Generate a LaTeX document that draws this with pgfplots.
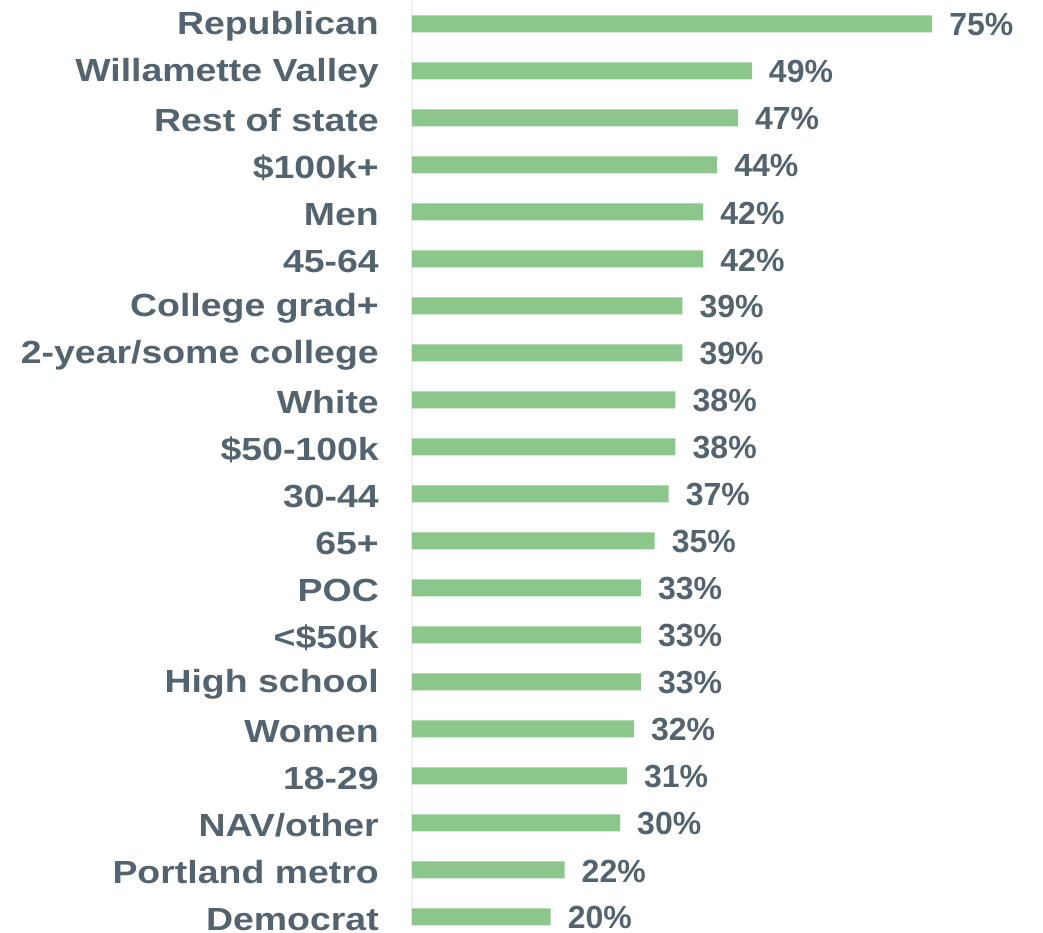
\documentclass[border=0pt]{standalone}
\usepackage{pgfplots}
\pgfplotsset{compat=1.18}
\usepackage{fontspec}
\setmainfont{Liberation Sans}
\newfontfamily\labfont[FakeStretch=1.17]{Liberation Sans}
\definecolor{barg}{HTML}{8BC68A}
\definecolor{txt}{HTML}{536470}
\begin{document}
\begin{tikzpicture}
\begin{axis}[
  name=ax,
  scale only axis,
  width=631bp, height=928bp,
  xmin=0, xmax=91,
  ymin=-0.51, ymax=19.235,
  y dir=reverse,
  xbar,
  bar width=17bp,
  axis x line=none,
  axis y line*=left,
  y axis line style={draw=black!5, line width=1.5bp},
  ytick={0,...,19},
  yticklabels={Republican, Willamette Valley, Rest of state, \$100k+, Men, 45-64, College grad+, 2-year/some college, White, \$50-100k, 30-44, 65+, POC, <\$50k, High school, Women, 18-29, NAV/other, Portland metro, Democrat},
  yticklabel style={font=\labfont\bfseries\fontsize{32bp}{36bp}\selectfont, text=txt, anchor=east, inner sep=0pt, xshift=-33bp, yshift=-2.5bp},
  major tick length=0pt,
  point meta=x,
  nodes near coords={\pgfmathprintnumber[assume math mode=true]{\pgfplotspointmeta}\%},
  nodes near coords style={font=\bfseries\fontsize{32bp}{36bp}\selectfont, text=txt, anchor=west, inner sep=0pt, xshift=17bp, yshift=-1bp},
  clip=false,
]
\addplot[fill=barg, draw=none] coordinates {
(75,0) (49,1) (47,2) (44,3) (42,4) (42,5) (39,6) (39,7) (38,8) (38,9)
(37,10) (35,11) (33,12) (33,13) (33,14) (32,15) (31,16) (30,17) (22,18) (20,19)
};
\end{axis}
\pgfresetboundingbox
\path ([xshift=-412bp, yshift=-4bp]ax.south west) rectangle (ax.north east);
\end{tikzpicture}
\end{document}
